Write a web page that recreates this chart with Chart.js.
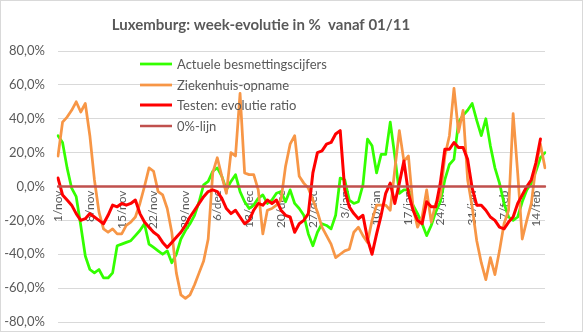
<!DOCTYPE html>
<html>
<head>
<meta charset="utf-8">
<script src="https://cdn.jsdelivr.net/npm/chart.js@4/dist/chart.umd.min.js"></script>
<style>
  html, body { margin: 0; padding: 0; background: #ffffff; }
  #wrap { width: 583px; height: 332px; position: relative; }
  canvas { display: block; }
</style>
</head>
<body>
<div id="wrap"><canvas id="chart" width="583" height="332"></canvas></div>
<script>
// Dagen vanaf 1 november tot 16 februari
const categories = [
  '1/nov','2/nov','3/nov','4/nov','5/nov','6/nov','7/nov','8/nov','9/nov','10/nov',
  '11/nov','12/nov','13/nov','14/nov','15/nov','16/nov','17/nov','18/nov','19/nov','20/nov',
  '21/nov','22/nov','23/nov','24/nov','25/nov','26/nov','27/nov','28/nov','29/nov','30/nov',
  '1/dec','2/dec','3/dec','4/dec','5/dec','6/dec','7/dec','8/dec','9/dec','10/dec',
  '11/dec','12/dec','13/dec','14/dec','15/dec','16/dec','17/dec','18/dec','19/dec','20/dec',
  '21/dec','22/dec','23/dec','24/dec','25/dec','26/dec','27/dec','28/dec','29/dec','30/dec','31/dec',
  '1/jan','2/jan','3/jan','4/jan','5/jan','6/jan','7/jan','8/jan','9/jan','10/jan',
  '11/jan','12/jan','13/jan','14/jan','15/jan','16/jan','17/jan','18/jan','19/jan','20/jan',
  '21/jan','22/jan','23/jan','24/jan','25/jan','26/jan','27/jan','28/jan','29/jan','30/jan','31/jan',
  '1/feb','2/feb','3/feb','4/feb','5/feb','6/feb','7/feb','8/feb','9/feb','10/feb',
  '11/feb','12/feb','13/feb','14/feb','15/feb','16/feb'
];

// Labels die op de x-as getoond worden (wekelijks)
const tickLabels = ['1/nov','8/nov','15/nov','22/nov','29/nov','6/dec','13/dec','20/dec',
  '27/dec','3/jan','10/jan','17/jan','24/jan','31/jan','7/feb','14/feb'];

// Waarden op de y-as
const yTicks = [-80, -60, -40, -20, 0, 20, 40, 60, 80];

// Week-evolutie in %
const actueleBesmettingen = [
  30, 26, 11, -1, -6, -23, -41, -49, -51, -49,
  -54, -54, -51, -35, -34, -33, -32, -29, -26, -22,
  -34, -36, -38, -40, -38, -45, -40, -31, -26, -22,
  -17, -9, 1, 3, 9, 11, 6, -2, 3, 7,
  -3, -9, -13, -11, -7, -5, -10, -8, -4, -3,
  -9, -2, -10, -13, -17, -28, -35, -27, -22, -23, -25,
  -17, 5, 4, -8, -10, -9, 1, 28, 24, 8,
  19, 19, 38, 18, -4, -2, -2, -11, -16, -22,
  -29, -23, -15, -9, 4, 13, 16, 38, 42, 45, 49,
  39, 30, 40, 24, 11, 2, -10, -18, -20, -18,
  -9, -2, 2, 9, 17, 20
];

const ziekenhuisOpname = [
  18, 38, 41, 45, 50, 44, 49, 30, 4, -15,
  -25, -27, -25, -28, -28, -23, -21, -18, -10, 0,
  11, 9, -3, -5, -13, -27, -51, -64, -66, -64,
  -58, -51, -44, -31, 8, 17, 6, -4, 20, 18,
  55, 8, 7, 7, -2, -28, -14, -13, -11, -8,
  12, 25, 30, 6, 2, -1, -8, -15, -24, -29, -34,
  -42, -40, -38, -37, -27, -24, -29, -33, -20, -11,
  -11, -11, -14, 10, 33, 15, 18, -12, -24, -18,
  -2, -21, -10, -6, 18, 30, 58, 32, 45, 4, -12,
  -32, -45, -55, -42, -52, -38, -22, -14, 43, 8,
  -31, -20, -10, 12, 25, 11
];

const testenRatio = [
  5, -5, -8, -11, -16, -20, -19, -16, -18, -20,
  -22, -17, -11, -12, -10, -11, -10, -8, -16, -21,
  -24, -27, -29, -33, -36, -33, -30, -27, -23, -18,
  -14, -10, -6, -3, -2, -3, -7, -13, -16, -14,
  -18, -22, -20, -14, -10, -11, -8, -10, -8, -14,
  -17, -18, -27, -22, -20, -16, 8, 20, 21, 25, 26,
  31, 33, -2, -12, -16, -19, -17, -31, -40, -28,
  -17, -4, 2, -10, 2, 15, -4, -14, -20, -22,
  -9, -12, -12, 2, 22, 22, 26, 23, 23, 16, -1,
  -11, -11, -14, -18, -20, -24, -25, -21, -18, -10,
  -5, 0, 4, 14, 28, null
];

const nulLijn = [
  0, 0, 0, 0, 0, 0, 0, 0, 0, 0,
  0, 0, 0, 0, 0, 0, 0, 0, 0, 0,
  0, 0, 0, 0, 0, 0, 0, 0, 0, 0,
  0, 0, 0, 0, 0, 0, 0, 0, 0, 0,
  0, 0, 0, 0, 0, 0, 0, 0, 0, 0,
  0, 0, 0, 0, 0, 0, 0, 0, 0, 0, 0,
  0, 0, 0, 0, 0, 0, 0, 0, 0, 0,
  0, 0, 0, 0, 0, 0, 0, 0, 0, 0,
  0, 0, 0, 0, 0, 0, 0, 0, 0, 0, 0,
  0, 0, 0, 0, 0, 0, 0, 0, 0, 0,
  0, 0, 0, 0, 0, 0
];

const FONT = 'Lato, "Liberation Sans", sans-serif';
const TEXT = '#595959';

function pct(v) {
  return v.toFixed(1).replace('.', ',') + '%';
}

// Titel, legende in het plotvlak en kader rond de grafiek
const decorPlugin = {
  id: 'decor',
  afterDatasetsDraw(chart) {
    const ctx = chart.ctx;
    ctx.save();
    const rowY = [64, 85, 105, 126];
    ctx.font = '13px ' + FONT;
    ctx.textBaseline = 'middle';
    ctx.textAlign = 'left';
    chart.data.datasets.forEach((ds, i) => {
      const y = rowY[i];
      ctx.strokeStyle = ds.borderColor;
      ctx.lineWidth = ds.borderWidth;
      ctx.beginPath();
      ctx.moveTo(140, y);
      ctx.lineTo(172, y);
      ctx.stroke();
      ctx.fillStyle = TEXT;
      ctx.fillText(ds.label, 177, y + 1);
    });
    ctx.restore();
  },
  afterDraw(chart) {
    const ctx = chart.ctx;
    ctx.save();
    ctx.font = 'bold 15px ' + FONT;
    ctx.fillStyle = TEXT;
    ctx.textAlign = 'center';
    ctx.textBaseline = 'middle';
    ctx.fillText('Luxemburg: week-evolutie in %  vanaf 01/11', 261, 25);
    ctx.strokeStyle = '#d9d9d9';
    ctx.lineWidth = 1;
    ctx.strokeRect(0.5, 0.5, chart.width - 1, chart.height - 1);
    ctx.restore();
  }
};

new Chart(document.getElementById('chart'), {
  type: 'line',
  data: {
    labels: categories,
    datasets: [
      { label: 'Actuele besmettingscijfers', data: actueleBesmettingen,
        borderColor: '#33ff00', borderWidth: 2.75, order: 4 },
      { label: 'Ziekenhuis-opname', data: ziekenhuisOpname,
        borderColor: '#f79646', borderWidth: 2.75, order: 3 },
      { label: 'Testen: evolutie ratio', data: testenRatio,
        borderColor: '#ff0000', borderWidth: 3, order: 2 },
      { label: '0%-lijn', data: nulLijn,
        borderColor: '#c0504d', borderWidth: 2.5, order: 1 }
    ]
  },
  options: {
    responsive: false,
    animation: false,
    events: [],
    layout: { padding: { top: 51, bottom: 10, left: 0, right: 38 } },
    elements: {
      point: { radius: 0 },
      line: { tension: 0, fill: false, borderCapStyle: 'round', borderJoinStyle: 'round' }
    },
    plugins: {
      legend: { display: false },
      title: { display: false },
      tooltip: { enabled: false }
    },
    scales: {
      x: {
        position: { y: 0 },
        grid: { display: false, drawTicks: false },
        border: { display: false },
        ticks: {
          autoSkip: false,
          maxRotation: 90,
          minRotation: 90,
          padding: 4,
          color: TEXT,
          font: { family: FONT, size: 12 },
          callback: function (value, index) {
            const lab = categories[index];
            return tickLabels.includes(lab) ? lab : null;
          }
        },
        afterFit(scale) {
          scale.paddingLeft = 0;
          scale.paddingRight = 0;
          scale.paddingTop = 0;
          scale.paddingBottom = 0;
        }
      },
      y: {
        min: yTicks[0],
        max: yTicks[yTicks.length - 1],
        afterFit(scale) {
          scale.width = 58;
          scale.paddingTop = 0;
          scale.paddingBottom = 0;
        },
        afterBuildTicks(scale) { scale.ticks = yTicks.map(v => ({ value: v })); },
        grid: { color: '#d9d9d9', lineWidth: 1, drawTicks: false },
        border: { display: false },
        ticks: {
          padding: 13,
          color: TEXT,
          font: { family: FONT, size: 13 },
          callback: v => pct(v)
        }
      }
    }
  },
  plugins: [decorPlugin]
});
</script>
</body>
</html>
